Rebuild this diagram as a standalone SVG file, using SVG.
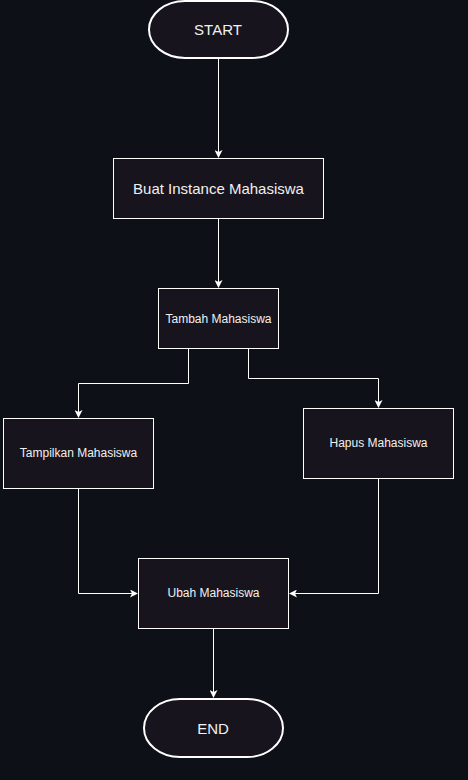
<svg xmlns="http://www.w3.org/2000/svg" width="468" height="780" viewBox="0 0 468 780">
<defs>
<marker id="arr" viewBox="0 0 8 8" refX="7" refY="4" markerWidth="8" markerHeight="8" markerUnits="userSpaceOnUse" orient="auto">
<path d="M0,0 L8,4 L0,8 L2,4 Z" fill="#ffffff"/>
</marker>
<style>
.n{fill:#18141d;stroke:#ffffff;stroke-width:1}
.c{fill:none;stroke:#ffffff;stroke-width:1}
text{font-family:"Liberation Sans",Arial,sans-serif;fill:#f0f0f0;text-anchor:middle;dominant-baseline:central}
</style>
</defs>
<rect width="468" height="780" fill="#0d1017"/>
<g id="connectors">
<path class="c" d="M218.5,59 V157" marker-end="url(#arr)"/>
<path class="c" d="M218.5,219 V287" marker-end="url(#arr)"/>
<path class="c" d="M188.5,349 V383.5 H78.5 V417" marker-end="url(#arr)"/>
<path class="c" d="M248.5,349 V378.5 H378.5 V407" marker-end="url(#arr)"/>
<path class="c" d="M78.5,489 V593.5 H137" marker-end="url(#arr)"/>
<path class="c" d="M378.5,479 V593.5 H290" marker-end="url(#arr)"/>
<path class="c" d="M213.5,629 V697" marker-end="url(#arr)"/>
</g>
<g id="start">
<rect x="149" y="1" width="139" height="57" rx="36" ry="28.5" fill="#18141d" stroke="#ffffff" stroke-width="2"/>
<text x="218" y="29" font-size="15">START</text>
</g>
<g id="buat">
<rect class="n" x="113.5" y="158.5" width="210" height="60"/>
<text x="218.5" y="188.5" font-size="15">Buat Instance Mahasiswa</text>
</g>
<g id="tambah">
<rect class="n" x="158.5" y="288.5" width="120" height="60"/>
<text x="218.5" y="318.5" font-size="12">Tambah Mahasiswa</text>
</g>
<g id="tampilkan">
<rect class="n" x="3.5" y="418.5" width="150" height="70"/>
<text x="78.5" y="453" font-size="12">Tampilkan Mahasiswa</text>
</g>
<g id="hapus">
<rect class="n" x="303.5" y="408.5" width="150" height="70"/>
<text x="378.5" y="443" font-size="12">Hapus Mahasiswa</text>
</g>
<g id="ubah">
<rect class="n" x="138.5" y="558.5" width="150" height="70"/>
<text x="213.5" y="593" font-size="12">Ubah Mahasiswa</text>
</g>
<g id="end">
<rect x="144" y="699" width="139" height="58" rx="36" ry="29" fill="#18141d" stroke="#ffffff" stroke-width="2"/>
<text x="213" y="728" font-size="15">END</text>
</g>
</svg>
